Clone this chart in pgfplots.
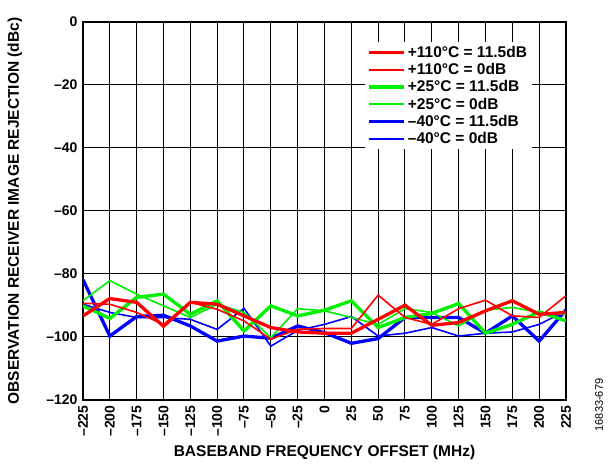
\documentclass[border=0pt]{standalone}
\usepackage{fontspec}
\setmainfont{Liberation Sans}
\usepackage{pgfplots}
\usepackage{pgfplotstable}
\pgfplotsset{compat=1.18}

\definecolor{adired}{RGB}{255,0,0}
\definecolor{adigreen}{RGB}{0,240,0}
\definecolor{adiblue}{RGB}{0,0,255}

% columns: offset (MHz), rejection (dBc)
\pgfplotstableread{
x y
-225 -93.3
-200 -87.8
-175 -89.0
-150 -96.6
-125 -89.0
-100 -89.6
-75 -93.3
-50 -97.0
-25 -98.4
0 -98.8
25 -98.8
50 -94.4
75 -89.9
100 -96.3
125 -95.4
150 -91.7
175 -88.5
200 -92.8
225 -92.2
}\hotgain
\pgfplotstableread{
x y
-225 -89.3
-200 -89.6
-175 -92.2
-150 -96.0
-125 -89.0
-100 -91.2
-75 -94.9
-50 -100.7
-25 -97.5
0 -97.3
25 -97.3
50 -86.7
75 -93.8
100 -96.0
125 -91.0
150 -88.3
175 -93.3
200 -93.8
225 -86.9
}\hotzero
\pgfplotstableread{
x y
-225 -90.1
-200 -94.1
-175 -87.4
-150 -86.4
-125 -92.8
-100 -88.5
-75 -98.1
-50 -90.1
-25 -93.3
0 -91.5
25 -88.5
50 -97.0
75 -93.8
100 -92.5
125 -89.4
150 -98.8
175 -96.0
200 -92.0
225 -94.9
}\roomgain
\pgfplotstableread{
x y
-225 -88.5
-200 -82.1
-175 -86.4
-150 -90.1
-125 -93.8
-100 -89.6
-75 -92.2
-50 -100.2
-25 -91.0
0 -91.7
25 -93.8
50 -96.0
75 -91.0
100 -92.2
125 -96.5
150 -91.5
175 -90.6
200 -92.2
225 -92.8
}\roomzero
\pgfplotstableread{
x y
-225 -81.8
-200 -99.7
-175 -93.5
-150 -93.1
-125 -96.5
-100 -101.3
-75 -99.7
-50 -100.4
-25 -96.5
0 -98.6
25 -102.0
50 -100.5
75 -93.8
100 -93.8
125 -93.8
150 -98.8
175 -93.3
200 -101.3
225 -91.4
}\coldgain
\pgfplotstableread{
x y
-225 -89.6
-200 -92.2
-175 -93.8
-150 -93.8
-125 -94.4
-100 -97.6
-75 -90.9
-50 -102.9
-25 -97.9
0 -96.0
25 -93.5
50 -99.7
75 -98.8
100 -97.0
125 -99.7
150 -98.8
175 -98.4
200 -96.0
225 -91.7
}\coldzero

\begin{document}
\begin{tikzpicture}
\begin{axis}[
    width=483pt, height=378pt, scale only axis,
    xmin=-225, xmax=225, ymin=-120, ymax=0,
    xtick={-225,-200,...,225},
    xticklabels={–225,–200,–175,–150,–125,–100,–75,–50,–25,0,25,50,75,100,125,150,175,200,225},
    ytick={-120,-100,...,0},
    yticklabels={–120,–100,–80,–60,–40,–20,0},
    grid=major,
    major grid style={black, line width=1pt},
    axis line style={black, line width=1.6pt},
    major tick length=0pt,
    tick label style={font=\bfseries\fontsize{14}{14}\selectfont},
    xticklabel style={rotate=90, anchor=east, xshift=-2pt},
    yticklabel style={xshift=-2pt},
    xlabel={BASEBAND FREQUENCY OFFSET (MHz)},
    ylabel={OBSERVATION RECEIVER IMAGE REJECTION (dBc)},
    label style={font=\bfseries\fontsize{15.5}{15.5}\selectfont},
    xlabel style={at={(axis description cs:0.5,-0.138)}, anchor=center},
    ylabel style={at={(axis description cs:-0.141,0.5)}, anchor=center},
    legend style={at={(0.93,0.947)}, anchor=north east, draw=none, fill=white,
        font=\bfseries\fontsize{15.5}{17.9}\selectfont, row sep=0.5pt},
    legend cell align=left,
    legend image code/.code={\draw[#1] (0pt,0pt) -- (35pt,0pt);},
]
\addlegendimage{adired, line width=3.3pt}
\addlegendentry{+110°C = 11.5dB}
\addlegendimage{adired, line width=1.6pt}
\addlegendentry{+110°C = 0dB}
\addlegendimage{adigreen, line width=3.3pt}
\addlegendentry{+25°C = 11.5dB}
\addlegendimage{adigreen, line width=1.6pt}
\addlegendentry{+25°C = 0dB}
\addlegendimage{adiblue, line width=3.3pt}
\addlegendentry{–40°C = 11.5dB}
\addlegendimage{adiblue, line width=1.6pt}
\addlegendentry{–40°C = 0dB}

\addplot[adiblue, line width=1.6pt, forget plot] table {\coldzero};
\addplot[adiblue, line width=3.3pt, forget plot] table {\coldgain};
\addplot[adigreen, line width=1.6pt, forget plot] table {\roomzero};
\addplot[adigreen, line width=3.3pt, forget plot] table {\roomgain};
\addplot[adired, line width=1.6pt, forget plot] table {\hotzero};
\addplot[adired, line width=3.3pt, forget plot] table {\hotgain};
\end{axis}
\node[rotate=90, font=\fontsize{11}{11}\selectfont] at ([xshift=33pt,yshift=-5pt]current axis.south east) {16833-679};
\path (current axis.south west) ++(-83pt,-68pt) rectangle ++(613pt,468pt);
\end{tikzpicture}
\end{document}
